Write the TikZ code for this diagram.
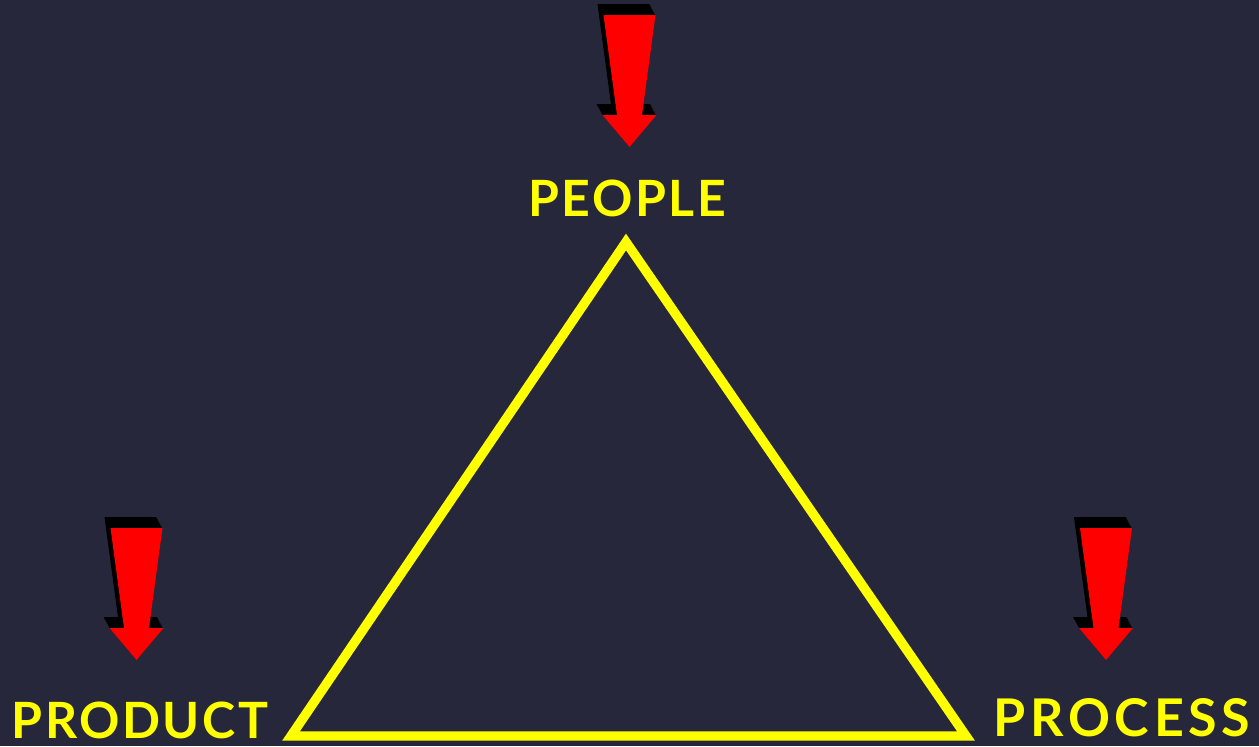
\documentclass[tikz,border=0pt]{standalone}
\usepackage{fontspec}
\setmainfont{Lato}[LetterSpace=5]
\usetikzlibrary{positioning}

\definecolor{night}{RGB}{38,39,58}
\definecolor{signred}{RGB}{255,0,0}
\definecolor{signyellow}{RGB}{255,255,0}

\tikzset{
  corner/.style={font=\fontsize{25}{30}\selectfont\bfseries, text=signyellow, inner sep=0pt},
  redarrow/.pic={
    \foreach \k in {1,...,10}
      \fill[black, shift={(-0.6*\k,-1.1*\k)}] (-26,0) -- (26,0) -- (12.5,100) -- (27,100) -- (0,132) -- (-27,100) -- (-12.5,100) -- cycle;
    \fill[signred] (-26,0) -- (26,0) -- (12.5,100) -- (27,100) -- (0,132) -- (-27,100) -- (-12.5,100) -- cycle;
  }
}

\begin{document}
\begin{tikzpicture}[x=0.5pt, y=-0.5pt]
      \fill[night] (0,0) rectangle (1259,746);
      \useasboundingbox (0,0) rectangle (1259,746);
      \coordinate (top) at (626,242);
      \coordinate (left) at (291,736);
      \coordinate (right) at (966,736);
      \draw[signyellow, line width=4.7pt, line join=miter] (left) -- (top) -- (right) -- cycle;
      \node[corner] (people) at (627,198) {PEOPLE};
      \node[corner] (product) at (140,720) {PRODUCT};
      \node[corner, font=\fontsize{26}{30}\selectfont\bfseries\addfontfeatures{LetterSpace=9}] (process) at (1122,718) {PROCESS};
      \pic at (629.5,15) {redarrow};
      \pic at (136.5,528) {redarrow};
      \pic at (1106,528) {redarrow};
    \end{tikzpicture}
\end{document}
